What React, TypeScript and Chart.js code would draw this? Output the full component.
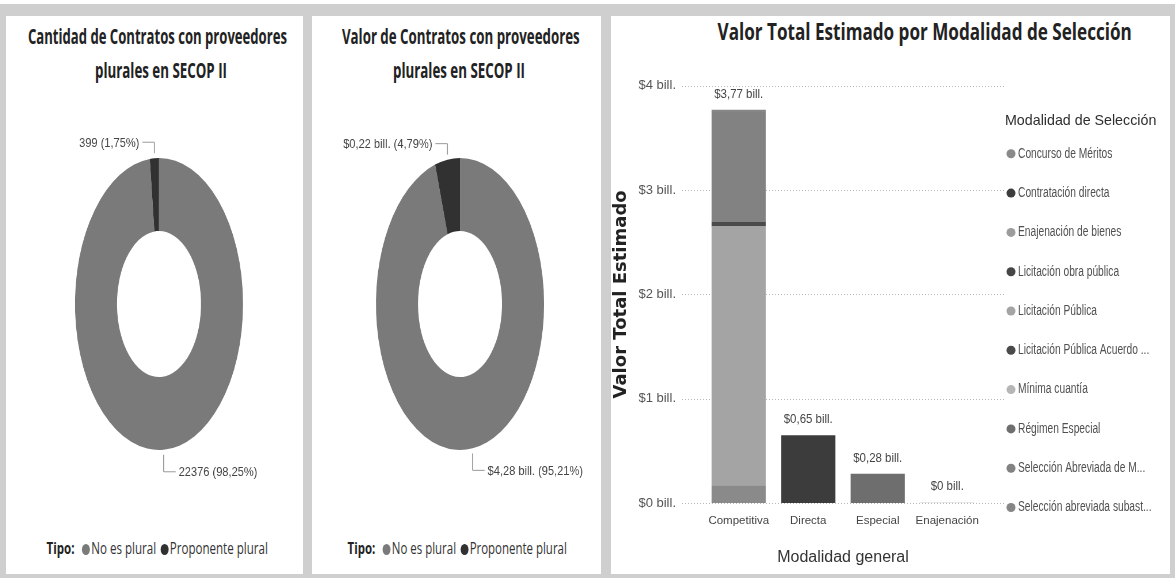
import React, { useEffect, useLayoutEffect, useRef, useState } from 'react';
import { Chart, registerables } from 'chart.js';

Chart.register(...registerables);

const SANS = '"Liberation Sans", Arial, sans-serif';
const TITLE_FONT = '"Open Sans", "Liberation Sans", sans-serif';

// ---------- Donut data ----------
const tipoLabels = ['No es plural', 'Proponente plural'];
const tipoColors = ['#7a7a7a', '#313131'];
const cantidadValues = [22376, 399];
const valorValues = [4.28, 0.2153];

// ---------- Bar data ----------
const modalidadGeneral = ['Competitiva', 'Directa', 'Especial', 'Enajenación'];
const modalidadSeleccion = [
  'Concurso de Méritos',
  'Contratación directa',
  'Enajenación de bienes',
  'Licitación obra pública',
  'Licitación Pública',
  'Licitación Pública Acuerdo ...',
  'Mínima cuantía',
  'Régimen Especial',
  'Selección Abreviada de M...',
  'Selección abreviada subast...',
];
const concursoMeritos = [0.17, 0, 0, 0];
const contratacionDirecta = [0, 0.65, 0, 0];
const enajenacionBienes = [0, 0, 0, 0.003];
const licitacionObraPublica = [0, 0, 0, 0];
const licitacionPublica = [2.48, 0, 0, 0];
const licitacionAcuerdo = [0.05, 0, 0, 0];
const minimaCuantia = [0, 0, 0, 0];
const regimenEspecial = [0, 0, 0.28, 0];
const seleccionAbreviadaM = [1.05, 0, 0, 0];
const seleccionSubasta = [0.02, 0, 0, 0];
const seriesValues = [
  concursoMeritos,
  contratacionDirecta,
  enajenacionBienes,
  licitacionObraPublica,
  licitacionPublica,
  licitacionAcuerdo,
  minimaCuantia,
  regimenEspecial,
  seleccionAbreviadaM,
  seleccionSubasta,
];
const seriesColors = [
  '#8a8a8a',
  '#3c3c3c',
  '#9c9c9c',
  '#464646',
  '#a4a4a4',
  '#4a4a4a',
  '#b6b6b6',
  '#6e6e6e',
  '#828282',
  '#868686',
];
const yTickValues = [0, 1, 2, 3, 4];

const fmtComma = (v: number, d = 2) => v.toFixed(d).replace('.', ',');

function drawScaled(ctx: any, text: string, x: number, y: number, kx: number) {
  ctx.save();
  ctx.translate(x, y);
  ctx.scale(kx, 1);
  ctx.fillText(text, 0, 0);
  ctx.restore();
}

function FitText({ width, children, style }: { width: number; children: any; style?: any }) {
  const ref = useRef<HTMLSpanElement>(null);
  const [k, setK] = useState(1);
  useLayoutEffect(() => {
    if (ref.current) {
      const w = ref.current.offsetWidth;
      if (w) setK(width / w);
    }
  }, [width]);
  return (
    <span
      ref={ref}
      style={{
        display: 'inline-block',
        whiteSpace: 'nowrap',
        transform: `scaleX(${k})`,
        transformOrigin: 'center',
        ...style,
      }}
    >
      {children}
    </span>
  );
}

function Line({ cx, cy, w, h, text, size, weight, color, font }: any) {
  return (
    <div
      style={{
        position: 'absolute',
        left: cx - 400,
        width: 800,
        top: cy - h / 2,
        height: h,
        lineHeight: `${h}px`,
        textAlign: 'center',
      }}
    >
      <FitText width={w} style={{ fontFamily: font || TITLE_FONT, fontSize: size, fontWeight: weight, color }}>
        {text}
      </FitText>
    </div>
  );
}

function Dot({ c }: { c: string }) {
  return (
    <span
      style={{
        display: 'inline-block',
        width: 11,
        height: 11,
        borderRadius: '50%',
        background: c,
        margin: '0 2px 0 6px',
        verticalAlign: '-1px',
      }}
    />
  );
}

function TipoLegend({ cx, cy, w }: any) {
  return (
    <div style={{ position: 'absolute', left: cx - 300, width: 600, top: cy - 11, height: 22, lineHeight: '22px', textAlign: 'center' }}>
      <FitText width={w} style={{ fontFamily: TITLE_FONT, fontSize: 16, color: '#333' }}>
        <b style={{ color: '#222' }}>Tipo:</b> <Dot c={tipoColors[0]} />
        {tipoLabels[0]}
        <Dot c={tipoColors[1]} />
        {tipoLabels[1]}
      </FitText>
    </div>
  );
}

function Donut({ values, fmt, left, width, cx, cy, rx, ry }: any) {
  const ref = useRef<HTMLCanvasElement>(null);
  const H = 380;
  const W = Math.round(width / (rx / ry));
  const sx = width / W;
  const pv = (H - 2 * ry) / 2;
  const cxC = (cx - left) / sx;
  const pl = 30;
  const pr = W - 2 * cxC + pl;
  useEffect(() => {
    if (!ref.current) return;
    const total = values.reduce((a: number, b: number) => a + b, 0);
    const texts = values.map((v: number) => `${fmt(v)} (${fmtComma((v / total) * 100)}%)`);
    const labelPlugin = {
      id: 'donutLabels',
      afterDatasetsDraw(chart: any) {
        const ctx = chart.ctx;
        const meta = chart.getDatasetMeta(0);
        meta.data.forEach((arc: any, i: number) => {
          const p = arc.getProps(['x', 'y', 'startAngle', 'endAngle', 'outerRadius'], true);
          const mid = (p.startAngle + p.endAngle) / 2;
          const px = p.x + Math.cos(mid) * p.outerRadius;
          const py = p.y + Math.sin(mid) * p.outerRadius;
          const up = Math.sin(mid) < 0;
          const d = up ? -1 : 1;
          const y1 = py + d * 5;
          const y2 = py + d * (up ? 16 : 22);
          const hx = px + (d * 12) / sx;
          ctx.save();
          ctx.fillStyle = '#9a9a9a';
          ctx.fillRect(px - 0.5 / sx, Math.min(y1, y2), 1 / sx, Math.abs(y2 - y1));
          ctx.fillRect(Math.min(px, hx), y2 - 0.5, Math.abs(hx - px), 1);
          ctx.font = `13.5px ${SANS}`;
          ctx.fillStyle = '#454545';
          ctx.textAlign = up ? 'right' : 'left';
          ctx.textBaseline = 'middle';
          drawScaled(ctx, texts[i], hx + (d * 3) / sx, y2 + 1, 0.82 / sx);
          ctx.restore();
        });
      },
    };
    const chart = new Chart(ref.current, {
      type: 'doughnut',
      data: {
        labels: tipoLabels,
        datasets: [{ data: values, backgroundColor: tipoColors, borderWidth: 0, hoverOffset: 0 }],
      },
      options: {
        responsive: false,
        animation: false,
        cutout: '50%',
        events: [],
        layout: { padding: { top: pv, bottom: pv, left: pl, right: pr } },
        plugins: { legend: { display: false }, tooltip: { enabled: false } },
      },
      plugins: [labelPlugin],
    } as any);
    return () => chart.destroy();
  }, []);
  return (
    <canvas
      ref={ref}
      width={W}
      height={H}
      style={{ position: 'absolute', left, top: cy - H / 2, width: `${width}px`, height: `${H}px` }}
    />
  );
}

function BarChart() {
  const ref = useRef<HTMLCanvasElement>(null);
  useEffect(() => {
    if (!ref.current) return;
    const dottedGrid = {
      id: 'dottedGrid',
      beforeDatasetsDraw(chart: any) {
        const { ctx, chartArea, scales } = chart;
        const y = scales.y;
        ctx.save();
        ctx.strokeStyle = '#b8b8b8';
        ctx.lineWidth = 1;
        ctx.setLineDash([1, 2]);
        yTickValues.forEach((v) => {
          const py = Math.round(y.getPixelForValue(v)) + 0.5;
          ctx.beginPath();
          ctx.moveTo(chartArea.left - 22, py);
          ctx.lineTo(chartArea.right + 23, py);
          ctx.stroke();
        });
        ctx.restore();
      },
    };
    const totals = {
      id: 'totals',
      afterDatasetsDraw(chart: any) {
        const { ctx, scales } = chart;
        ctx.save();
        ctx.font = `13.5px ${SANS}`;
        ctx.fillStyle = '#454545';
        ctx.textAlign = 'center';
        ctx.textBaseline = 'middle';
        modalidadGeneral.forEach((_, i) => {
          const sum = seriesValues.reduce((a, s) => a + s[i], 0);
          const r = Math.round(sum * 100) / 100;
          const txt = `$${r === 0 ? '0' : fmtComma(r)} bill.`;
          drawScaled(ctx, txt, scales.x.getPixelForValue(i), scales.y.getPixelForValue(sum) - 16, 0.85);
        });
        ctx.restore();
      },
    };
    const sideLegend = {
      id: 'sideLegend',
      afterDraw(chart: any) {
        const { ctx, chartArea } = chart;
        const x0 = chartArea.right;
        const top = chartArea.top;
        ctx.save();
        ctx.textBaseline = 'middle';
        ctx.textAlign = 'left';
        ctx.fillStyle = '#2e2e2e';
        ctx.font = `15px ${SANS}`;
        drawScaled(ctx, 'Modalidad de Selección', x0 + 23, top + 35, 0.95);
        chart.data.datasets.forEach((ds: any, i: number) => {
          const y = top + 68 + i * 39.3;
          ctx.fillStyle = ds.backgroundColor;
          ctx.beginPath();
          ctx.arc(x0 + 29, y, 4.5, 0, Math.PI * 2);
          ctx.fill();
          ctx.fillStyle = '#505050';
          ctx.font = `14px ${SANS}`;
          drawScaled(ctx, ds.label, x0 + 36, y, 0.73);
        });
        ctx.restore();
      },
    };
    const chart = new Chart(ref.current, {
      type: 'bar',
      data: {
        labels: modalidadGeneral,
        datasets: modalidadSeleccion.map((name, i) => ({
          label: name,
          data: seriesValues[i],
          backgroundColor: seriesColors[i],
          borderWidth: 0,
          categoryPercentage: 0.78,
          barPercentage: 1,
        })),
      },
      options: {
        responsive: true,
        maintainAspectRatio: false,
        animation: false,
        events: [],
        layout: { padding: { top: 30, left: 0, right: 188, bottom: 0 } },
        scales: {
          x: {
            stacked: true,
            grid: { display: false, drawTicks: false },
            border: { display: false },
            ticks: {
              padding: 11,
              color: '#444',
              autoSkip: false,
              maxRotation: 0,
              minRotation: 0,
              font: { family: SANS, size: 11.5 },
            },
            title: {
              display: true,
              text: 'Modalidad general',
              color: '#333',
              font: { family: SANS, size: 16 },
              padding: { top: 4, bottom: 3 },
            },
            afterFit: (s: any) => {
              s.height = 67;
            },
          },
          y: {
            stacked: true,
            min: 0,
            max: 4,
            afterBuildTicks: (s: any) => {
              s.ticks = yTickValues.map((v) => ({ value: v }));
            },
            ticks: {
              padding: 28,
              color: '#555',
              font: { family: SANS, size: 13 },
              callback: (v: any) => `$${v} bill.`,
            },
            grid: { display: false, drawTicks: false },
            border: { display: false },
            title: {
              display: true,
              text: 'Valor Total Estimado',
              color: '#222',
              font: { family: '"DejaVu Sans", sans-serif', weight: 'bold', size: 18 },
              padding: { top: 0, bottom: 0 },
            },
            afterFit: (s: any) => {
              s.width = 93;
            },
          },
        },
        plugins: {
          tooltip: { enabled: false },
          legend: { display: false },
        },
      },
      plugins: [dottedGrid, totals, sideLegend],
    } as any);
    return () => chart.destroy();
  }, []);
  return (
    <div style={{ position: 'absolute', left: 611, top: 50, width: 559, height: 520 }}>
      <canvas ref={ref} />
    </div>
  );
}

const panel = (left: number, width: number) => ({
  position: 'absolute' as const,
  left,
  top: 16,
  width,
  height: 558,
  background: '#ffffff',
});

export default function App() {
  return (
    <div style={{ position: 'absolute', left: 0, top: 0, width: 1175, height: 578, background: '#ffffff', overflow: 'hidden' }}>
      <div style={{ position: 'absolute', left: 0, top: 4, width: 1175, height: 574, background: '#cfcfcf' }} />
      <div style={panel(6, 297)} />
      <div style={panel(312, 289)} />
      <div style={panel(611, 559)} />

      <Line cx={157} cy={35} w={259} h={30} size={22} weight={700} color="#222" text="Cantidad de Contratos con proveedores" />
      <Line cx={161} cy={69} w={132} h={30} size={22} weight={700} color="#222" text="plurales en SECOP II" />
      <Donut values={cantidadValues} fmt={(v: number) => `${v}`} left={6} width={297} cx={159} cy={304} rx={84} ry={146} />
      <TipoLegend cx={157} cy={548} w={221} />

      <Line cx={461} cy={35} w={238} h={30} size={22} weight={700} color="#222" text="Valor de Contratos con proveedores" />
      <Line cx={459} cy={69} w={132} h={30} size={22} weight={700} color="#222" text="plurales en SECOP II" />
      <Donut values={valorValues} fmt={(v: number) => `$${fmtComma(v)} bill.`} left={312} width={289} cx={460} cy={304} rx={84} ry={146} />
      <TipoLegend cx={457} cy={548} w={219} />

      <Line cx={925} cy={31} w={414} h={32} size={24} weight={700} color="#222" text="Valor Total Estimado por Modalidad de Selección" />
      <BarChart />
    </div>
  );
}
